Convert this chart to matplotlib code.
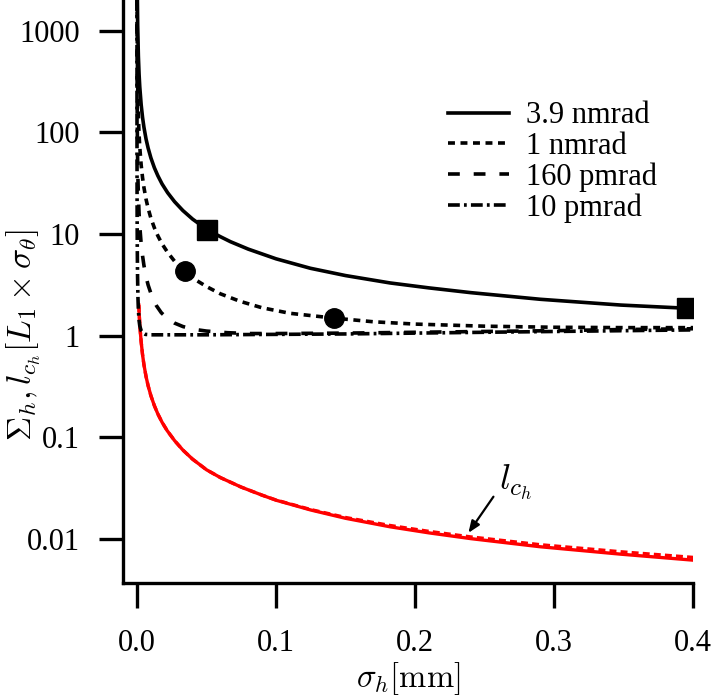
"""Sigma_h and l_ch versus sigma_h for several angular jitter levels (log scale)."""

import matplotlib

matplotlib.use("Agg")
import matplotlib.pyplot as plt  # noqa: E402

plt.rcParams["mathtext.fontset"] = "cm"
plt.rcParams["font.family"] = ["Liberation Serif", "DejaVu Serif"]
plt.rcParams["lines.scale_dashes"] = False

# --- values (x in mm, y in units of L1 x sigma_theta) ---
x_39n = [0.00025, 0.0005, 0.001, 0.0015, 0.002, 0.003, 0.004, 0.005, 0.0065, 0.008, 0.01,
         0.0125, 0.015, 0.018, 0.022, 0.027, 0.033, 0.04, 0.0506, 0.06, 0.0672, 0.08, 0.1,
         0.1247, 0.15, 0.182, 0.21, 0.24, 0.29, 0.348, 0.3957]
y_39n = [2240, 1120, 560, 373, 280, 187, 140, 112, 86, 70, 56,
         44.8, 37.4, 31.1, 25.5, 20.8, 17.0, 14.0, 11.0, 9.4, 8.4, 7.1, 5.7,
         4.6, 3.9, 3.3, 2.95, 2.65, 2.28, 2.0, 1.86]

x_1n = [0.00006, 0.0002, 0.0004, 0.0007, 0.001, 0.0015, 0.002, 0.003, 0.004, 0.005, 0.0065,
        0.008, 0.01, 0.0125, 0.015, 0.018, 0.022, 0.027, 0.0347, 0.042, 0.05, 0.06, 0.074,
        0.09, 0.11, 0.1414, 0.17, 0.2, 0.25, 0.3, 0.35, 0.4]
y_1n = [2380, 715, 357, 204, 143, 95, 71.5, 47.7, 35.8, 28.6, 22.0,
        17.9, 14.3, 11.5, 9.6, 8.0, 6.6, 5.4, 4.29, 3.55, 3.04, 2.58, 2.18,
        1.88, 1.66, 1.49, 1.37, 1.3, 1.24, 1.21, 1.2, 1.2]

x_160p = [0.00001, 0.00003, 0.0001, 0.0002, 0.0004, 0.0007, 0.001, 0.0015, 0.002, 0.003,
          0.004, 0.005, 0.0065, 0.008, 0.0108, 0.014, 0.0175, 0.0216, 0.027, 0.033, 0.04,
          0.05, 0.065, 0.08, 0.1, 0.15, 0.2, 0.25, 0.3, 0.35, 0.4]
y_160p = [2390, 800, 239, 120, 60, 34, 23.9, 16, 12, 8.0,
          6.1, 4.9, 3.8, 3.15, 2.42, 1.97, 1.68, 1.49, 1.33, 1.23, 1.16,
          1.11, 1.07, 1.05, 1.05, 1.06, 1.08, 1.1, 1.12, 1.15, 1.17]

x_10p = [0.0000007, 0.000002, 0.000005, 0.00001, 0.00002, 0.00005, 0.0001, 0.0002, 0.0004,
         0.0007, 0.001, 0.0015, 0.002, 0.003, 0.004, 0.006, 0.01, 0.05, 0.1, 0.15, 0.2,
         0.25, 0.3, 0.35, 0.4]
y_10p = [2140, 750, 300, 150, 75, 30, 15, 7.6, 3.9,
         2.35, 1.8, 1.41, 1.25, 1.12, 1.07, 1.03, 1.02, 1.02, 1.03, 1.04, 1.06,
         1.08, 1.1, 1.12, 1.14]

x_lch = [0.0013, 0.0016, 0.002, 0.0025, 0.003, 0.004, 0.005, 0.0065, 0.008, 0.01, 0.0125,
         0.015, 0.018, 0.0216, 0.027, 0.033, 0.04, 0.05, 0.06, 0.075, 0.09, 0.1, 0.125,
         0.15, 0.182, 0.21, 0.24, 0.29, 0.348, 0.4]
y_lch = [2.0, 1.63, 1.3, 1.05, 0.87, 0.65, 0.518, 0.397, 0.322, 0.257, 0.205,
         0.17, 0.141, 0.117, 0.093, 0.075, 0.061, 0.048, 0.0402, 0.0324, 0.027, 0.0241, 0.0193,
         0.016, 0.0132, 0.0115, 0.0101, 0.0084, 0.0071, 0.0062]
y_lch_dash = [2.0, 1.63, 1.3, 1.05, 0.87, 0.65, 0.518, 0.397, 0.322, 0.257, 0.205,
              0.17, 0.141, 0.117, 0.093, 0.075, 0.061, 0.048, 0.0402, 0.0324, 0.027, 0.0242,
              0.0195, 0.0163, 0.0136, 0.0119, 0.0105, 0.0088, 0.0075, 0.0066]

sq_x = [0.0506, 0.3957]
sq_y = [11.0, 1.86]
dot_x = [0.0347, 0.1414]
dot_y = [4.29, 1.49]

yticks = [0.01, 0.1, 1, 10, 100, 1000]
ytick_labels = ["0.01", "0.1", "1", "10", "100", "1000"]
xticks = [0.0, 0.1, 0.2, 0.3, 0.4]
xtick_labels = ["0.0", "0.1", "0.2", "0.3", "0.4"]

LW = 2.6
FS = 22

fig = plt.figure(figsize=(7.14, 6.96), dpi=100)
ax = fig.add_axes([0.1718, 0.1624, 0.971 - 0.1718, 1.0 - 0.1624])

ax.plot(x_lch, y_lch, color="red", lw=2.4)
ax.plot(x_lch, y_lch_dash, color="red", lw=2.4, dashes=(5, 3))

ax.plot(x_39n, y_39n, color="black", lw=LW, label="3.9 nmrad")
ax.plot(x_1n, y_1n, color="black", lw=LW, dashes=(5, 4), label="1 nmrad")
ax.plot(x_160p, y_160p, color="black", lw=LW, dashes=(8.5, 10), label="160 pmrad")
ax.plot(x_10p, y_10p, color="black", lw=LW, dashes=(8.5, 3, 2, 3), label="10 pmrad")

ax.plot(sq_x, sq_y, "s", color="black", ms=14)
ax.plot(dot_x, dot_y, "o", color="black", ms=14)

ax.text(0.2725, 0.0365, r"$l_{c_h}$", ha="center", va="center", fontsize=26)
ax.annotate("", xy=(0.2383, 0.0115), xytext=(0.2563, 0.0261),
            arrowprops=dict(arrowstyle="-|>,head_length=0.7,head_width=0.28",
                            color="black", lw=1.6, shrinkA=0, shrinkB=0))

ax.set_yscale("log")
ax.set_xlim(-0.0103, 0.4)
ax.set_ylim(0.0037, 2000)
ax.set_yticks(yticks)
ax.set_yticklabels(ytick_labels)
ax.set_xticks(xticks)
ax.set_xticklabels(xtick_labels)
ax.minorticks_off()

for side in ("top", "right"):
    ax.spines[side].set_visible(False)
for side in ("left", "bottom"):
    ax.spines[side].set_linewidth(2.4)
ax.tick_params(axis="y", direction="out", length=17, width=2.4, pad=14, labelsize=FS)
ax.tick_params(axis="x", direction="out", length=18, width=2.4, pad=15, labelsize=FS)

ax.set_xlabel(r"$\sigma_h [\mathrm{mm}]$", fontsize=23.5)
ax.set_ylabel(r"$\Sigma_h, l_{c_h} [L_1 \times \sigma_\theta]$", fontsize=24)
ax.yaxis.set_label_coords(-0.14, 0.425)
ax.xaxis.set_label_coords(0.5, -0.133)

ax.legend(loc="upper left", bbox_to_anchor=(0.5485, 0.847), frameon=False, fontsize=22,
          handlelength=2.0, handletextpad=0.55, labelspacing=0.05, borderaxespad=0)

fig.savefig("out.png", dpi=100)
plt.close(fig)
